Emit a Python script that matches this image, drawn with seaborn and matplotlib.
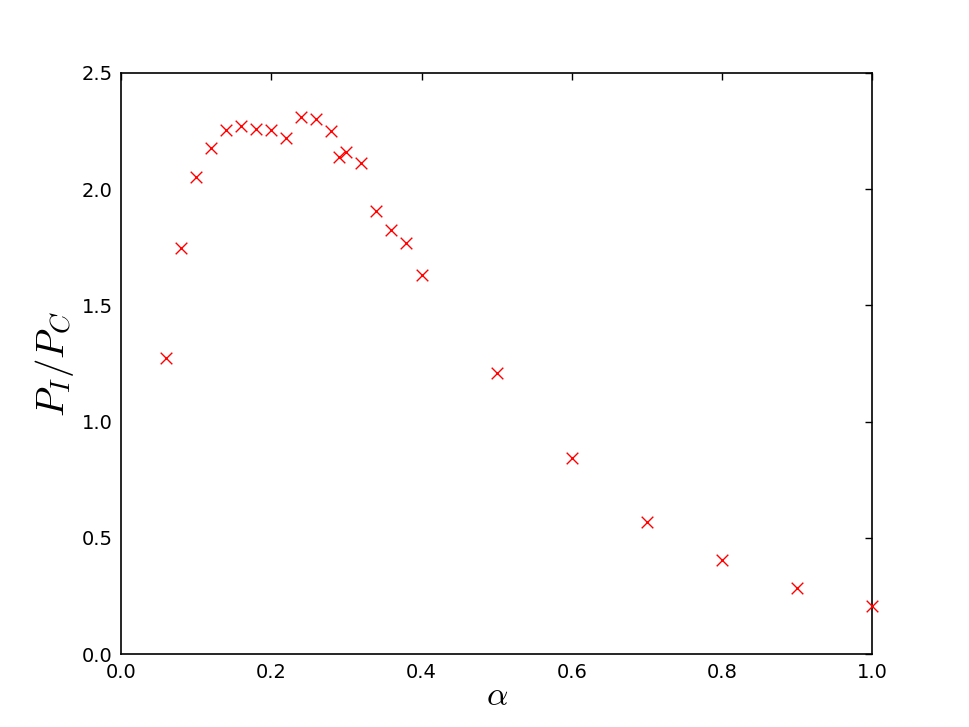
import matplotlib
matplotlib.use("Agg")
import matplotlib.pyplot as plt
import seaborn as sns
import pandas as pd

# 數據
alpha = [0.06, 0.08, 0.10, 0.12, 0.14, 0.16, 0.18, 0.20, 0.22, 0.24, 0.26,
         0.28, 0.29, 0.30, 0.32, 0.34, 0.36, 0.38, 0.40, 0.50, 0.60, 0.70,
         0.80, 0.90, 1.00]
ratio = [1.275, 1.747, 2.052, 2.178, 2.252, 2.272, 2.258, 2.255, 2.221, 2.308, 2.300,
         2.249, 2.137, 2.157, 2.110, 1.905, 1.822, 1.770, 1.632, 1.211, 0.843, 0.567,
         0.407, 0.284, 0.206]

df = pd.DataFrame({"alpha": alpha, "ratio": ratio})

sns.set_style("white")
plt.rcParams['font.family'] = ['DejaVu Sans']
plt.rcParams['mathtext.fontset'] = 'cm'
plt.rcParams['text.color'] = 'black'
plt.rcParams['axes.labelcolor'] = 'black'
plt.rcParams['xtick.color'] = 'black'
plt.rcParams['ytick.color'] = 'black'

fig = plt.figure(figsize=(9.69, 7.27), dpi=100)
ax = fig.add_axes([0.125, 0.1, 0.775, 0.8])

sns.scatterplot(data=df, x="alpha", y="ratio", marker="x", color="red",
                s=70, linewidth=1.0, ax=ax, legend=False, clip_on=False, zorder=3)

ax.set_xlim(0, 1.0)
ax.set_ylim(0, 2.5)
ax.set_xticks([0.0, 0.2, 0.4, 0.6, 0.8, 1.0])
ax.set_yticks([0.0, 0.5, 1.0, 1.5, 2.0, 2.5])
ax.tick_params(direction="in", top=True, right=True, length=5, width=1,
               labelsize=14, pad=6, color="black", labelcolor="black")
for sp in ax.spines.values():
    sp.set_color("black")
    sp.set_linewidth(1.2)

ax.set_xlabel(r"$\alpha$", fontsize=24, labelpad=-2)
ax.set_ylabel(r"$P_I/P_C$", fontsize=28, labelpad=4)

fig.savefig("out.png", dpi=100)
